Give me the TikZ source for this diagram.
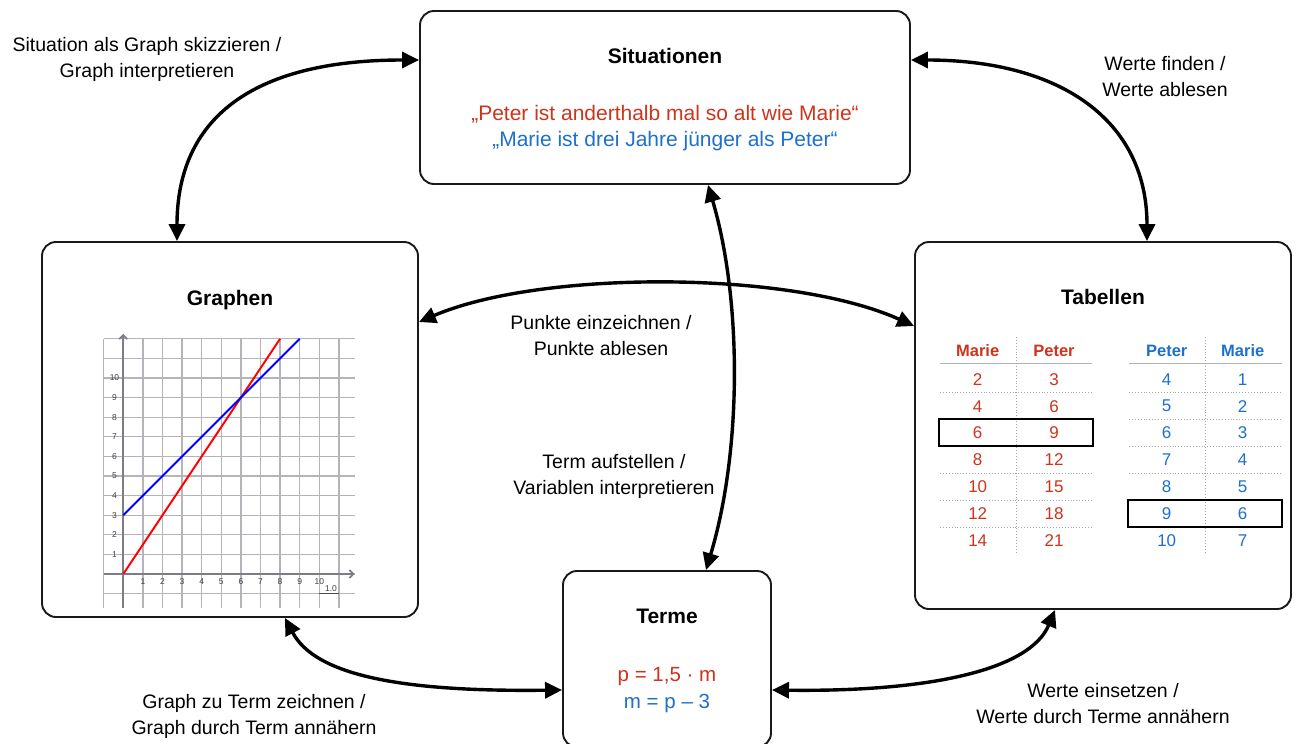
\documentclass[tikz,border=0pt]{standalone}
\usepackage{fontspec}
\setmainfont{Liberation Sans}
\usetikzlibrary{arrows.meta,calc}
\definecolor{tred}{RGB}{205,52,28}
\definecolor{tblue}{RGB}{30,112,205}
\definecolor{gridc}{RGB}{180,180,186}
\definecolor{axisc}{RGB}{125,125,135}
\begin{document}
\begin{tikzpicture}[x=1pt,y=-1pt,
  box/.style={draw=black!90, line width=1.9pt, rounded corners=14pt, fill=white},
  conn/.style={line width=3.4pt, {Triangle[length=17pt,width=16pt]}-{Triangle[length=17pt,width=16pt]}},
  lbl/.style={align=center, font=\fontsize{19.5}{26}\selectfont, inner sep=0pt},
  ttl/.style={font=\fontsize{21}{25}\selectfont\bfseries, inner sep=0pt},
  quote/.style={font=\fontsize{21}{25}\selectfont, inner sep=0pt},
  formula/.style={font=\fontsize{20.5}{25}\selectfont, inner sep=0pt},
  gline/.style={draw=gridc, line width=1.3pt},
  axisl/.style={draw=axisc, line width=1.7pt},
  tick/.style={font=\fontsize{8.5}{9}\selectfont, text=black!75, inner sep=0pt},
  thead/.style={font=\fontsize{16.5}{18}\selectfont\bfseries, inner sep=0pt},
  tcell/.style={font=\fontsize{17}{18}\selectfont, inner sep=0pt},
  sepline/.style={draw=black!30, line width=0.9pt},
  dotsep/.style={draw=black!35, line width=0.9pt, dotted},
  hibox/.style={draw=black, line width=2pt}
]
\useasboundingbox (0,0) rectangle (1298,744);
\fill[white] (0,0) rectangle (1298,744);

% boxes
\node[box, minimum width=490pt, minimum height=173pt] (sit) at (665,97.5) {};
\node[box, minimum width=376pt, minimum height=375pt] (gra) at (230,429.5) {};
\node[box, minimum width=376pt, minimum height=367pt] (tab) at (1103,425.5) {};
\node[box, minimum width=208pt, minimum height=176pt] (ter) at (667,659) {};

% titles and texts
\node[ttl] (sitT) at (665,56) {Situationen};
\node[quote, text=tred] (sitA) at (665,114) {„Peter ist anderthalb mal so alt wie Marie“};
\node[quote, text=tblue] (sitB) at (665,141.5) {„Marie ist drei Jahre jünger als Peter“};
\node[ttl] (graT) at (230,300) {Graphen};
\node[ttl] (tabT) at (1103,297) {Tabellen};
\node[ttl] (terT) at (667,616) {Terme};
\node[formula, text=tred] (terA) at (667,677) {p = 1,5 · m};
\node[formula, text=tblue] (terB) at (667,703) {m = p – 3};

% connector labels
\node[lbl] (l1) at (147,59) {Situation als Graph skizzieren /\\Graph interpretieren};
\node[lbl] (l2) at (1165,77) {Werte finden /\\Werte ablesen};
\node[lbl] (l3) at (601,336) {Punkte einzeichnen /\\Punkte ablesen};
\node[lbl] (l4) at (614,476) {Term aufstellen /\\Variablen interpretieren};
\node[lbl] (l5) at (254,716) {Graph zu Term zeichnen /\\Graph durch Term annähern};
\node[lbl] (l6) at (1103,704) {Werte einsetzen /\\Werte durch Terme annähern};

% connectors
\draw[conn] ($(gra.north)+(-53,0)$) .. controls (177,120) and (250,60) .. ($(sit.west)+(0,-37.5)$);
\draw[conn] ($(sit.east)+(0,-37.5)$) .. controls (1060,60) and (1147,120) .. ($(tab.north)+(44,0)$);
\draw[conn] ($(gra.east)+(0,-107.5)$) .. controls (540,270) and (790,270) .. ($(tab.west)+(0,-99.5)$);
\draw[conn] ($(sit.south)+(43,0)$) .. controls (742,300) and (742,450) .. ($(ter.north)+(39,0)$);
\draw[conn] ($(gra.south)+(55,0)$) .. controls (315,675) and (400,692) .. ($(ter.west)+(0,31)$);
\draw[conn] ($(ter.east)+(0,31)$) .. controls (930,692) and (1030,670) .. ($(tab.south)+(-48,0)$);

% coordinate graph
\begin{scope}[shift={(123.3,574)}, x=19.6pt, y=19.6pt]
  \foreach \i in {-1,...,11} \draw[gline] (\i,-1.75) -- (\i,12);
  \foreach \j in {-1,...,12} \draw[gline] (-1,\j) -- (11.8,\j);
  \draw[axisl, -{Straight Barb[length=4pt,width=8pt]}] (0,-1.75) -- (0,12.25);
  \draw[axisl, -{Straight Barb[length=4pt,width=8pt]}] (-1,0) -- (11.8,0);
  \foreach \i in {1,...,10} \node[tick] (xt\i) at (\i,-0.4) {\i};
  \foreach \j in {1,...,10} \node[tick] (yt\j) at (-0.45,\j) {\j};
  \node[tick] (scl) at (10.6,-0.72) {1.0};
  \draw[black!70, line width=1.2pt] (10,-1) -- (11,-1);
  \draw[red, line width=1.9pt] (0,0) -- (8,12);
  \draw[blue, line width=1.9pt] (0,3) -- (9,12);
\end{scope}

% tables
\node[thead, text=tred] (rh1) at (977.7,351) {Marie};
\node[thead, text=tred] (rh2) at (1054,351) {Peter};
\node[thead, text=tblue] (bh1) at (1166.7,351) {Peter};
\node[thead, text=tblue] (bh2) at (1242.7,351) {Marie};
\draw[sepline] (940,363.3) -- (1092,363.3);
\draw[sepline] (1129,363.3) -- (1282,363.3);
\draw[dotsep] (1016.7,337) -- (1016.7,553);
\draw[dotsep] (1205,337) -- (1205,553);
\foreach \k in {1,...,6} {
  \draw[dotsep] (940,{392.75+26.9*(\k-1)}) -- (1092,{392.75+26.9*(\k-1)});
  \draw[dotsep] (1129,{392.75+26.9*(\k-1)}) -- (1282,{392.75+26.9*(\k-1)});
}
\foreach \k/\m/\p in {1/2/3,2/4/6,3/6/9,4/8/12,5/10/15,6/12/18,7/14/21} {
  \node[tcell, text=tred] (rm\k) at (977.7,{379.3+26.9*(\k-1)}) {\m};
  \node[tcell, text=tred] (rp\k) at (1054,{379.3+26.9*(\k-1)}) {\p};
}
\foreach \k/\p/\m in {1/4/1,2/5/2,3/6/3,4/7/4,5/8/5,6/9/6,7/10/7} {
  \node[tcell, text=tblue] (bp\k) at (1166.7,{379.3+26.9*(\k-1)}) {\p};
  \node[tcell, text=tblue] (bm\k) at (1242.7,{379.3+26.9*(\k-1)}) {\m};
}
\draw[hibox] (939,418.5) rectangle (1093,446);
\draw[hibox] (1128,500) rectangle (1282,527);
\end{tikzpicture}
\end{document}
